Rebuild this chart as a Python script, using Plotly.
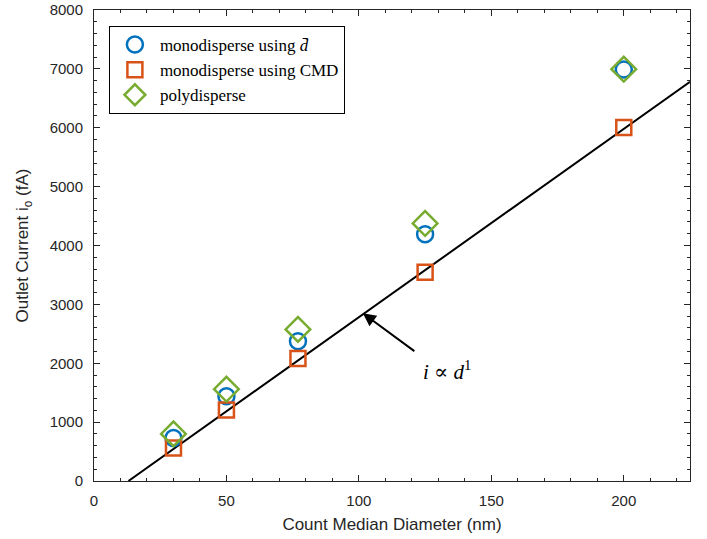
import plotly.graph_objects as go

diam = [30, 50, 77, 125, 200]
mono_dbar = [730, 1440, 2375, 4190, 6990]
mono_cmd = [560, 1205, 2080, 3545, 6005]
poly = [800, 1560, 2575, 4375, 6995]
fit_x = [13, 225]
fit_y = [0, 6780]

x_ticks = [0, 50, 100, 150, 200]
y_ticks = [0, 1000, 2000, 3000, 4000, 5000, 6000, 7000, 8000]

axcol = "#262626"
fig = go.Figure()
fig.add_trace(go.Scatter(x=fit_x, y=fit_y, mode="lines", line=dict(color="black", width=2), showlegend=False))
fig.add_trace(go.Scatter(x=diam, y=mono_dbar, mode="markers", name="monodisperse using <i>d̄</i>",
                         marker=dict(symbol="circle-open", size=16, color="#0072BD", line=dict(width=2.5, color="#0072BD"))))
fig.add_trace(go.Scatter(x=diam, y=mono_cmd, mode="markers", name="monodisperse using CMD",
                         marker=dict(symbol="square-open", size=15, color="#D95319", line=dict(width=2.5, color="#D95319"))))
fig.add_trace(go.Scatter(x=diam, y=poly, mode="markers", name="polydisperse",
                         marker=dict(symbol="diamond-open", size=19, color="#77AC30", line=dict(width=2.5, color="#77AC30"))))

fig.add_annotation(x=101.5, y=2850, ax=53, ay=39,
                   showarrow=True, arrowhead=2, arrowsize=1.3, arrowwidth=2, arrowcolor="black", text="")
fig.add_annotation(x=123.5, y=1880, xanchor="left", yanchor="middle", showarrow=False,
                   text="<i>i</i> ∝ <i>d</i><sup>1</sup>",
                   font=dict(family="Liberation Serif, DejaVu Serif, serif", size=21, color="black"))

axis_common = dict(showline=True, linecolor=axcol, linewidth=1, mirror="ticks", ticks="inside",
                   ticklen=6, tickcolor=axcol, showgrid=False, zeroline=False, automargin=False,
                   tickfont=dict(family="Liberation Sans, Arial, sans-serif", size=15, color=axcol))
fig.update_xaxes(range=[0, 225], tickvals=x_ticks, ticklabelstandoff=6, **axis_common,
                 minor=dict(ticks="inside", ticklen=3, dtick=10, tickcolor=axcol),
                 title=dict(text="Count Median Diameter (nm)", standoff=10,
                            font=dict(family="Liberation Sans, Arial, sans-serif", size=17, color=axcol)))
fig.update_yaxes(range=[0, 8000], tickvals=y_ticks, ticklabelstandoff=7, **axis_common,
                 minor=dict(ticks="inside", ticklen=3, dtick=200, tickcolor=axcol),
                 title=dict(text="Outlet Current i<sub>o</sub> (fA)", standoff=16,
                            font=dict(family="Liberation Sans, Arial, sans-serif", size=17, color=axcol)))

fig.update_layout(width=707, height=539, margin=dict(l=94, r=17, t=10, b=58),
                  plot_bgcolor="white", paper_bgcolor="white",
                  legend=dict(x=0.025, y=0.966, xanchor="left", yanchor="top", bgcolor="white",
                              bordercolor="black", borderwidth=1, tracegroupgap=0, itemwidth=40,
                              font=dict(family="Liberation Serif, DejaVu Serif, serif", size=17, color="black"),
                              itemsizing="trace"))
fig.write_html("out.html")
